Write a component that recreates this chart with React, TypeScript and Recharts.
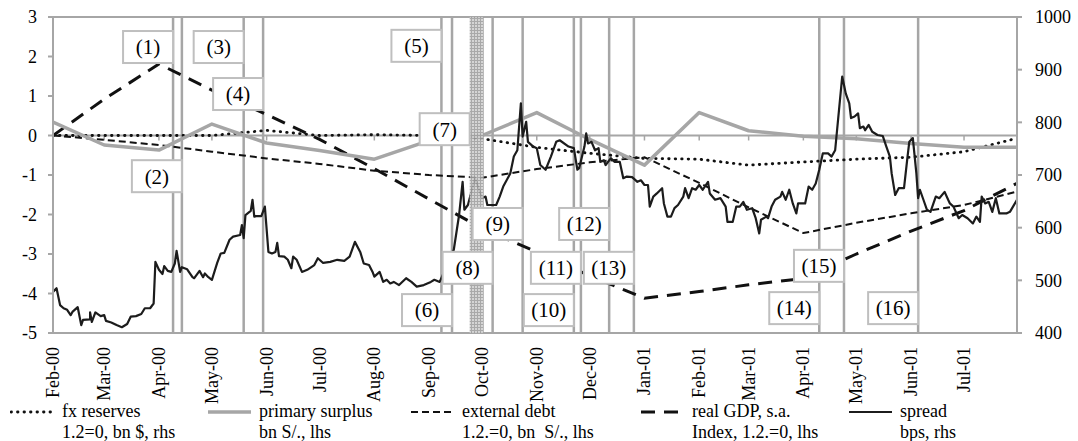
import React from 'react'
import { ComposedChart, Line, XAxis, YAxis, ReferenceLine, ReferenceArea, ReferenceDot, Legend } from 'recharts'

const FONT = '"Liberation Serif", "Times New Roman", serif'
const GRAY = '#a6a6a6'

const START = Date.UTC(2000, 1, 1)
const dayOf = (d: string) => {
  const [y, m, dd] = d.split('-').map(Number)
  return Math.round((Date.UTC(y, m - 1, dd) - START) / 86400000)
}

// month axis, Feb-00 .. Jul-01
const months = ['Feb-00', 'Mar-00', 'Apr-00', 'May-00', 'Jun-00', 'Jul-00', 'Aug-00', 'Sep-00', 'Oct-00', 'Nov-00', 'Dec-00',
  'Jan-01', 'Feb-01', 'Mar-01', 'Apr-01', 'May-01', 'Jun-01', 'Jul-01']
const monthDays = months.map((_, i) => Math.round((Date.UTC(2000, 1 + i, 1) - START) / 86400000))
const END_DAY = dayOf('2001-07-31')

// monthly series: one value per month start, last one at end of Jul-01
const seriesDates = [...monthDays, END_DAY]
const fxReserves = [0, 0, 0, 0, 0.13, 0, 0.02, 0, -0.08, -0.3, -0.45, -0.58, -0.6, -0.75, -0.67, -0.6, -0.55, -0.41, -0.07]
const primarySurplus = [0.34, -0.24, -0.37, 0.29, -0.19, -0.38, -0.6, -0.13, 0.0, 0.58, -0.1, -0.75, 0.58, 0.12, -0.02, -0.08, -0.2, -0.3, -0.3]
const externalDebt = [0, -0.11, -0.24, -0.41, -0.58, -0.72, -0.89, -1.0, -1.07, -0.85, -0.68, -0.55, -1.2, -1.82, -2.47, -2.21, -1.97, -1.76, -1.42]
const realGdp = [0, 0.92, 1.81, 1.15, 0.53, -0.1, -0.84, -1.61, -2.35, -2.95, -3.55, -4.12, -3.95, -3.78, -3.62, -3.0, -2.42, -1.9, -1.21]

// spread, bps: [days since 1 Feb 2000, value]
const spreadBps: [number, number][] = [
  [0, 478], [2, 485], [4, 453], [6, 447], [8, 444], [10, 434], [11, 440], [14, 449], [16, 415], [17, 425],
  [21, 426], [21, 439], [22, 421], [24, 439], [27, 432], [29, 434], [30, 423], [33, 420], [36, 415], [39, 411],
  [42, 417], [44, 431], [47, 432], [50, 436], [52, 447], [55, 447], [57, 456], [58, 535], [60, 520], [62, 512],
  [63, 527], [65, 518], [67, 516], [69, 532], [70, 556], [72, 516], [73, 525], [76, 521], [79, 506], [80, 504],
  [83, 518], [85, 506], [86, 513], [88, 506], [90, 501], [93, 533], [95, 551], [97, 552], [100, 577], [102, 583],
  [106, 586], [107, 605], [108, 580], [109, 624], [112, 632], [113, 653], [114, 621], [115, 622], [118, 622], [120, 640],
  [122, 554], [124, 551], [126, 554], [127, 571], [128, 546], [131, 545], [133, 539], [135, 523], [136, 545], [138, 539],
  [141, 516], [144, 520], [148, 529], [150, 542], [153, 533], [157, 535], [161, 539], [165, 537], [168, 545], [171, 573],
  [174, 554], [176, 532], [179, 529], [181, 516], [182, 507], [185, 516], [187, 497], [189, 501], [191, 494], [193, 497],
  [196, 491], [200, 504], [203, 497], [206, 488], [210, 491], [214, 497], [216, 501], [219, 497], [227, 558], [230, 624],
  [232, 687], [233, 634], [235, 643], [239, 694], [243, 656], [245, 659], [246, 643], [251, 643], [253, 659], [255, 678],
  [259, 703], [261, 735], [263, 747], [265, 836], [266, 773], [268, 801], [269, 763], [272, 754], [274, 751], [276, 719],
  [279, 710], [282, 735], [285, 763], [287, 766], [292, 754], [295, 751], [297, 710], [298, 713], [301, 754], [302, 779],
  [303, 760], [305, 763], [307, 747], [309, 751], [310, 725], [312, 728], [313, 719], [316, 732], [318, 725], [321, 725],
  [323, 694], [325, 697], [328, 696], [331, 687], [333, 690], [335, 681], [337, 681], [338, 640], [340, 659], [342, 665],
  [345, 675], [346, 646], [348, 621], [350, 621], [352, 637], [354, 643], [357, 659], [358, 675], [360, 656], [362, 675],
  [364, 672], [366, 681], [368, 672], [371, 687], [372, 665], [375, 653], [378, 656], [381, 640], [382, 611], [385, 611],
  [387, 640], [389, 640], [391, 649], [393, 634], [396, 637], [398, 618], [400, 589], [401, 615], [404, 621], [405, 618],
  [407, 640], [409, 653], [412, 659], [413, 668], [415, 653], [417, 672], [419, 646], [421, 627], [422, 646], [426, 646],
  [428, 678], [430, 672], [432, 684], [434, 710], [436, 741], [439, 741], [441, 735], [443, 747], [445, 817], [447, 887],
  [449, 855], [451, 836], [452, 808], [454, 811], [456, 817], [457, 789], [459, 792], [460, 785], [462, 795], [464, 782],
  [467, 776], [470, 774], [472, 754], [474, 735], [475, 703], [477, 662], [479, 675], [482, 675], [484, 735], [485, 763],
  [487, 770], [489, 703], [490, 656], [491, 672], [493, 653], [495, 634], [497, 630], [500, 659], [502, 656], [505, 668],
  [507, 653], [508, 646], [510, 640], [513, 618], [515, 624], [518, 618], [521, 608], [523, 621], [525, 611], [526, 659],
  [528, 646], [530, 649], [532, 630], [534, 656], [536, 627], [540, 627], [542, 630], [546, 653],
]

// numbered events: date of the line and height (lhs units) of the label box
const eventLabels = ['(1)', '(2)', '(3)', '(4)', '(5)', '(6)', '(7)', '(8)', '(9)', '(10)', '(11)', '(12)', '(13)', '(14)', '(15)', '(16)']
const eventDates = ['2000-04-09', '2000-04-14', '2000-05-19', '2000-05-30', '2000-09-08', '2000-09-14', '2000-09-24', '2000-10-07',
  '2000-10-24', '2000-11-22', '2000-11-26', '2000-12-12', '2000-12-26', '2001-04-10', '2001-04-24', '2001-06-05']
const eventBoxLevel = [2.24, -1.03, 2.24, 1.05, 2.27, -4.42, 0.16, -3.35, -2.24, -4.42, -3.35, -2.24, -3.35, -4.37, -3.3, -4.37]
const bandEnd = '2000-10-02' // event (7) is a period, not a single day

const toSeries = (vals: number[]) => vals.map((v, i) => ({ day: seriesDates[i], v }))
const spreadData = spreadBps.map(([day, v]) => ({ day, v }))

const styles = {
  fx: { stroke: '#111', strokeWidth: 2.8, strokeDasharray: '0.5 6', strokeLinecap: 'round' as const },
  surplus: { stroke: GRAY, strokeWidth: 3.5 },
  debt: { stroke: '#111', strokeWidth: 2, strokeDasharray: '7 4' },
  gdp: { stroke: '#111', strokeWidth: 3, strokeDasharray: '14 9' },
  spread: { stroke: '#1c1c1c', strokeWidth: 2.2 },
}

const legendItems = [
  { name: 'fx reserves', sub: '1.2=0, bn $, rhs', style: styles.fx, w: 197 },
  { name: 'primary surplus', sub: 'bn S/., lhs', style: styles.surplus, w: 203 },
  { name: 'external debt', sub: '1.2.=0, bn  S/., lhs', style: styles.debt, w: 230 },
  { name: 'real GDP, s.a.', sub: 'Index, 1.2.=0, lhs', style: styles.gdp, w: 208 },
  { name: 'spread', sub: 'bps, rhs', style: styles.spread, w: 150 },
]

const MonthTick = (props: any) => {
  const { x, y, payload } = props
  const label = months[monthDays.indexOf(payload.value)]
  return (
    <text x={x} y={y} transform={`rotate(-90 ${x} ${y})`} textAnchor="end" dy="0.33em"
      fontSize={18} fontFamily={FONT} fill="#000">{label}</text>
  )
}

const EventBox = (props: any) => {
  const { cx, cy, text } = props
  const w = 50
  const h = 32
  return (
    <g>
      <rect x={cx - w} y={cy - h / 2} width={w} height={h} fill="#fff" stroke="#bfbfbf" strokeWidth={2} />
      <text x={cx - w / 2} y={cy} textAnchor="middle" dy="0.35em" fontSize={21} fontFamily={FONT} fill="#000">{text}</text>
    </g>
  )
}

const ZeroTick = (props: any) => {
  const { cx, cy } = props
  return <line x1={cx} x2={cx} y1={cy} y2={cy + 5} stroke={GRAY} strokeWidth={1.5} />
}

const LegendContent = () => (
  <div style={{ display: 'flex', paddingLeft: 10, height: 40, fontFamily: FONT, fontSize: 18, lineHeight: '21px', color: '#000' }}>
    {legendItems.map((it) => (
      <div key={it.name} style={{ display: 'flex', alignItems: 'flex-start', gap: 7, width: it.w, flex: 'none' }}>
        <svg width={45} height={21}>
          <line x1={1} x2={44} y1={11} y2={11} {...it.style} />
        </svg>
        <div style={{ whiteSpace: 'pre' }}>
          <div>{it.name}</div>
          <div>{it.sub}</div>
        </div>
      </div>
    ))}
  </div>
)

const App = () => {
  return (
    <div style={{ position: 'absolute', left: 0, top: 0, fontFamily: FONT }}>
      <ComposedChart width={1078} height={441} margin={{ top: 17, right: 0, left: 0, bottom: 0 }}>
        <defs>
          <pattern id="hatch" width="3" height="3" patternUnits="userSpaceOnUse">
            <rect width="3" height="3" fill="#d0d0d0" />
            <path d="M0 0.5H3M0.5 0V3" stroke="#a0a0a0" strokeWidth="1" />
          </pattern>
        </defs>
        <XAxis dataKey="day" type="number" domain={[0, END_DAY]} ticks={monthDays} interval={0}
          allowDataOverflow height={68} tickLine={false} tickSize={0} tickMargin={14}
          axisLine={{ stroke: GRAY, strokeWidth: 2 }} tick={<MonthTick />} />
        <YAxis yAxisId="left" domain={[-5, 3]} ticks={[-5, -4, -3, -2, -1, 0, 1, 2, 3]} width={53}
          tickSize={5} tickMargin={11} axisLine={{ stroke: GRAY, strokeWidth: 2 }} tickLine={{ stroke: GRAY, strokeWidth: 2 }}
          tick={{ fontSize: 18, fill: '#000', fontFamily: FONT }} />
        <YAxis yAxisId="right" orientation="right" domain={[400, 1000]} ticks={[400, 500, 600, 700, 800, 900, 1000]} width={61}
          tickSize={5} tickMargin={13} axisLine={{ stroke: GRAY, strokeWidth: 2 }} tickLine={{ stroke: GRAY, strokeWidth: 2 }}
          tick={{ fontSize: 18, fill: '#000', fontFamily: FONT, textAnchor: 'start' }} />

        <ReferenceLine yAxisId="left" y={3} stroke={GRAY} strokeWidth={2} zIndex={50} />
        <ReferenceLine yAxisId="left" y={0} stroke={GRAY} strokeWidth={2} zIndex={50} />
        {monthDays.map((d) => (
          <ReferenceDot key={'t' + d} yAxisId="left" x={d} y={0} r={0} shape={<ZeroTick />} zIndex={50} />
        ))}
        {eventDates.map((d, i) => (i === 6 ? null :
          <ReferenceLine key={'e' + i} yAxisId="left" x={dayOf(d)} stroke={GRAY} strokeWidth={2.5} zIndex={60} />
        ))}

        <Line yAxisId="left" data={toSeries(fxReserves)} dataKey="v" dot={false} activeDot={false} isAnimationActive={false} {...styles.fx} />
        <Line yAxisId="left" data={toSeries(externalDebt)} dataKey="v" dot={false} activeDot={false} isAnimationActive={false} {...styles.debt} />
        <Line yAxisId="left" data={toSeries(realGdp)} dataKey="v" dot={false} activeDot={false} isAnimationActive={false} {...styles.gdp} />
        <Line yAxisId="left" data={toSeries(primarySurplus)} dataKey="v" dot={false} activeDot={false} isAnimationActive={false} {...styles.surplus} strokeLinejoin="round" />
        <Line yAxisId="right" data={spreadData} dataKey="v" dot={false} activeDot={false} isAnimationActive={false} {...styles.spread} strokeLinejoin="round" />

        <ReferenceArea yAxisId="left" x1={dayOf(eventDates[6])} x2={dayOf(bandEnd)} fill="url(#hatch)" fillOpacity={0.9} stroke="none" zIndex={1500} />
        {eventDates.map((d, i) => (
          <ReferenceDot key={'b' + i} yAxisId="left" x={dayOf(d)} y={eventBoxLevel[i]} r={0}
            shape={<EventBox text={eventLabels[i]} />} zIndex={1900} />
        ))}

        <Legend verticalAlign="bottom" align="left" content={<LegendContent />}
          wrapperStyle={{ left: 0, height: 40, width: 1078 }} />
      </ComposedChart>
    </div>
  )
}

export default App
